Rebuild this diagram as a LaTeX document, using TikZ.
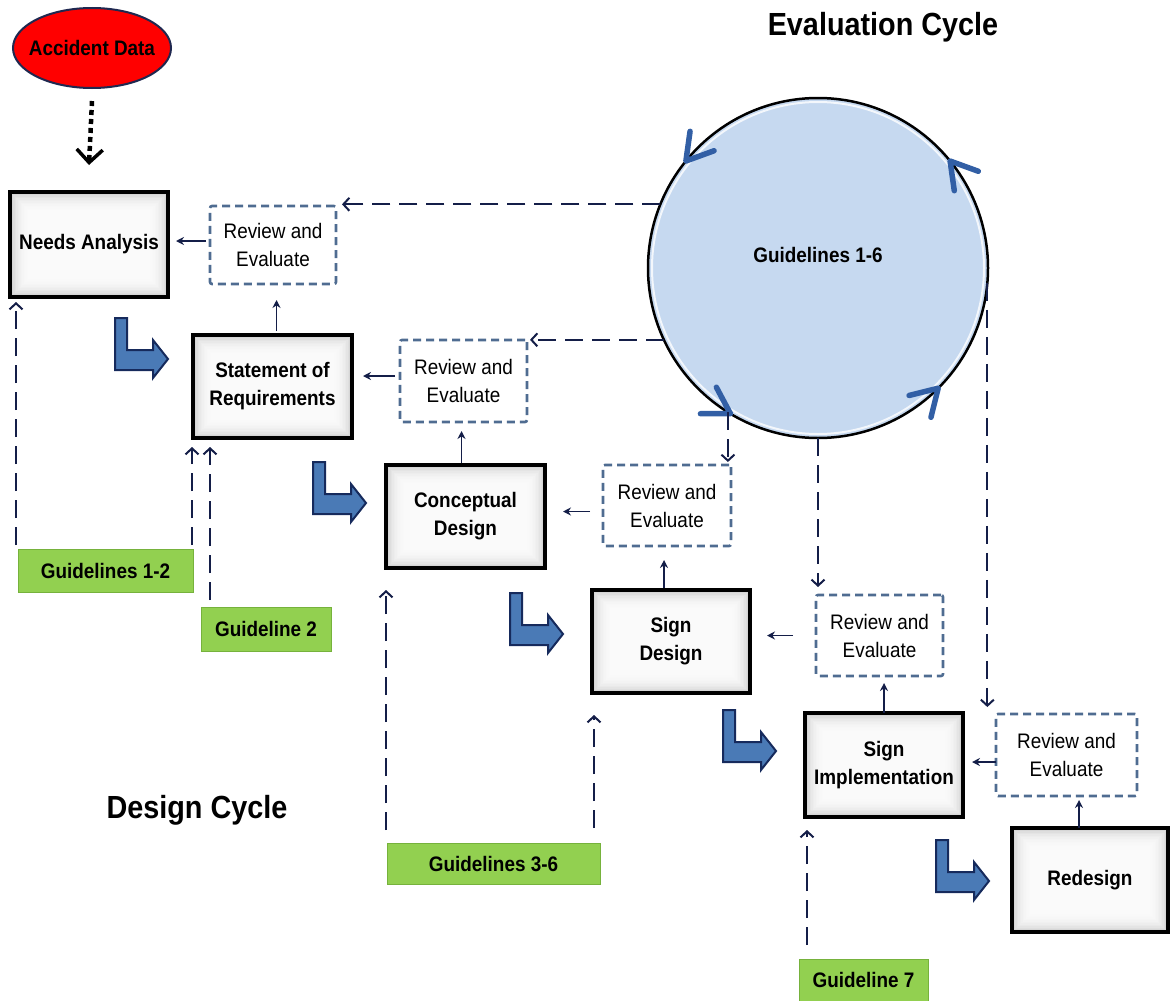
\documentclass[tikz,border=0pt]{standalone}
\usepackage{fontspec}
\setmainfont{Liberation Sans}[FakeStretch=0.9]
\usetikzlibrary{arrows.meta,calc,shapes.geometric}

\definecolor{navy}{RGB}{20,30,72}
\definecolor{revblue}{RGB}{79,108,145}
\definecolor{bentfill}{RGB}{74,122,182}
\definecolor{bentedge}{RGB}{22,42,92}
\definecolor{leaf}{RGB}{146,208,80}
\definecolor{leafedge}{RGB}{118,178,60}
\definecolor{sky}{RGB}{198,217,240}
\definecolor{chevblue}{RGB}{50,95,165}
\definecolor{ringedge}{RGB}{31,40,80}

\tikzset{
  innerglow/.style={path picture={
    \foreach \k in {1,...,12}{
      \fill[white,opacity=0.2]
        ([shift={(\k*1.5pt,\k*1.5pt)}]path picture bounding box.south west)
        rectangle ([shift={(-\k*1.5pt,-\k*1.5pt)}]path picture bounding box.north east);
    }}},
  stage/.style={draw=black, line width=3.2pt, fill=gray!40, innerglow,
    inner sep=0pt, outer sep=0pt, align=center,
    font=\fontsize{21}{28}\selectfont\bfseries},
  review/.style={draw=revblue, line width=2.6pt, dash pattern=on 8pt off 5pt,
    rounded corners=2pt, fill=white, inner sep=0pt, outer sep=0pt, align=center,
    font=\fontsize{21}{28}\selectfont},
  guide/.style={draw=leafedge, line width=1pt, fill=leaf, inner sep=0pt,
    outer sep=0pt, font=\fontsize{21}{24}\selectfont\bfseries},
  link/.style={draw=navy, line width=1.5pt, -{Stealth[length=8pt,width=8pt]}},
  feed/.style={draw=navy, line width=2pt, dash pattern=on 18pt off 9pt,
    -{Straight Barb[length=6pt,width=13pt,line width=2pt]}},
  chev/.style={draw=chevblue, line width=5.5pt, line cap=round, line join=round},
  bentarrow/.pic={
    \draw[draw=bentedge, fill=bentfill, line width=2pt, line join=miter]
      (0,0) -- (12,0) -- (12,32) -- (38,32) -- (38,22) -- (53,41)
      -- (38,60) -- (38,52) -- (0,52) -- cycle;}
}

\begin{document}
\begin{tikzpicture}[x=1pt,y=-1pt]
\useasboundingbox (0,0) rectangle (1170,1001);

% titles
\node[font=\fontsize{32}{36}\selectfont\bfseries] (T1) at (883,27) {Evaluation Cycle};
\node[font=\fontsize{32}{36}\selectfont\bfseries] (T2) at (197,810) {Design Cycle};

% evaluation ring
\node[circle, draw=black, line width=2.5pt, fill=sky, minimum size=340pt,
      inner sep=0pt, outer sep=0pt] (G) at (818,268) {};
\draw[white, line width=2pt, opacity=0.8] (G.center) circle[radius=166pt];
\node[font=\fontsize{21}{24}\selectfont\bfseries] (GL) at (818,255) {Guidelines 1-6};
\foreach \a in {141,239,315,39}{
  \draw[chev] ($(G.center)+(\a:170pt)+(\a-59:30pt)$) -- ($(G.center)+(\a:170pt)$)
              -- ($(G.center)+(\a:170pt)+(\a-121:30pt)$);
}

% source data
\node[ellipse, draw=ringedge, line width=2pt, fill=red, minimum width=158pt,
      minimum height=80pt, inner sep=0pt,
      label={[font=\fontsize{21}{24}\selectfont\bfseries]center:Accident Data}]
      (AD) at (92,48) {};

% design stages
\node[stage, minimum width=158pt, minimum height=105pt] (NA) at (89,244.5) {Needs Analysis};
\node[stage, minimum width=159pt, minimum height=103pt] (SR) at (272.5,386.5) {Statement of\\Requirements};
\node[stage, minimum width=159pt, minimum height=103pt] (CD) at (465.5,516.5) {Conceptual\\Design};
\node[stage, minimum width=158pt, minimum height=103pt] (SD) at (671,641.5) {Sign\\Design};
\node[stage, minimum width=158pt, minimum height=104pt] (SI) at (884,765) {Sign\\Implementation};
\node[stage, minimum width=156pt, minimum height=104pt] (RD) at (1090,880) {Redesign};

% review boxes
\node[review, minimum width=126pt, minimum height=78pt] (R1) at (273,245) {Review and\\Evaluate};
\node[review, minimum width=127pt, minimum height=82pt] (R2) at (463.5,381) {Review and\\Evaluate};
\node[review, minimum width=128pt, minimum height=81pt] (R3) at (667,505.5) {Review and\\Evaluate};
\node[review, minimum width=127pt, minimum height=81pt] (R4) at (879.5,635.5) {Review and\\Evaluate};
\node[review, minimum width=141pt, minimum height=82pt] (R5) at (1066.5,755) {Review and\\Evaluate};

% guideline tags
\node[guide, minimum width=175pt, minimum height=43pt] (G12) at (105.5,570.5) {Guidelines 1-2};
\node[guide, minimum width=130pt, minimum height=44pt] (G2) at (266,629) {Guideline 2};
\node[guide, minimum width=213pt, minimum height=41pt] (G36) at (493.5,863.5) {Guidelines 3-6};
\node[guide, minimum width=129pt, minimum height=42pt] (G7) at (863.5,980) {Guideline 7};

% stage-to-stage bent arrows
\path (115,318) pic {bentarrow};
\path (313,462) pic {bentarrow};
\path (510,593) pic {bentarrow};
\path (723,710) pic {bentarrow};
\path (936,840) pic {bentarrow};

% data feed into needs analysis
\draw[line width=4.5pt, dash pattern=on 5pt off 4pt,
      -{Straight Barb[length=13pt,width=26pt,line width=3.5pt]}]
      ([yshift=-12pt]AD.south) -- ([yshift=27pt]NA.north);

% review feedback (horizontal into the stage on the left, vertical up from the stage below)
\draw[link] ($(R1.west)+(-4,-4)$) -- ($(R1.west -| NA.east)+(8,-4)$);
\draw[link] ($(SR.north)+(4,-4)$) -- ($(SR.north |- R1.south)+(4,16)$);
\draw[link] ($(R2.west)+(-5,-5)$) -- ($(R2.west -| SR.east)+(11,-5)$);
\draw[link] ($(CD.north)+(-4,-2)$) -- ($(CD.north |- R2.south)+(-4,9)$);
\draw[link] ($(R3.west)+(-13,6)$) -- ($(R3.west -| CD.east)+(18,6)$);
\draw[link] ($(SD.north)+(-7,-2)$) -- ($(SD.north |- R3.south)+(-7,14)$);
\draw[link] ($(R4.west)+(-23,0)$) -- ($(R4.west -| SD.east)+(17,0)$);
\draw[link] (SI.north) -- ($(SI.north |- R4.south)+(0,7)$);
\draw[link] ($(R5.west)+(0,7)$) -- ($(R5.west -| SI.east)+(9,7)$);
\draw[link] ($(RD.north)+(-11,0)$) -- ($(RD.north |- R5.south)+(-11,4)$);

% evaluation cycle feeds
\coordinate (e1) at (G.158.6 -| R1.east);
\coordinate (e2) at (G.205.8 -| R2.east);
\coordinate (e3) at (G.238.8 |- R3.north);
\coordinate (e4) at (G.270.7 |- R4.north);
\coordinate (e5) at (G.355 |- R5.north);
\draw[feed] (G.158.6) -- ([xshift=6pt]e1);
\draw[feed] (G.205.8) -- ([xshift=3pt]e2);
\draw[feed] (G.238.8) -- ([yshift=3pt]e3);
\draw[feed] (G.270.7) -- ([yshift=8pt]e4);
\draw[feed] (G.355) -- ([yshift=7pt]e5);

% guideline inputs
\coordinate (u1) at (G12.north west |- NA.south);
\draw[feed] ([xshift=-2pt,yshift=4pt]G12.north west) -- ([xshift=-2pt,yshift=-5pt]u1);
\coordinate (u2) at (G12.north east |- SR.south);
\draw[feed] ([xshift=-1pt,yshift=4pt]G12.north east) -- ([xshift=-1pt,yshift=-9pt]u2);
\coordinate (u3) at ([xshift=9pt]G2.north west);
\coordinate (u3e) at (u3 |- SR.south);
\draw[feed] ([yshift=7pt]u3) -- ([yshift=-9pt]u3e);
\coordinate (u4) at (G36.north west |- CD.south);
\draw[feed] ([xshift=-1pt,yshift=13pt]G36.north west) -- ([xshift=-1pt,yshift=-22pt]u4);
\coordinate (u5) at ([xshift=-6pt]G36.north east);
\coordinate (u5e) at (u5 |- SD.south);
\draw[feed] ([yshift=15pt]u5) -- ([yshift=-22pt]u5e);
\coordinate (u6) at ([xshift=8pt]G7.north west);
\coordinate (u6e) at (u6 |- SI.south);
\draw[feed] ([yshift=14pt]u6) -- ([yshift=-13pt]u6e);

\end{tikzpicture}
\end{document}
